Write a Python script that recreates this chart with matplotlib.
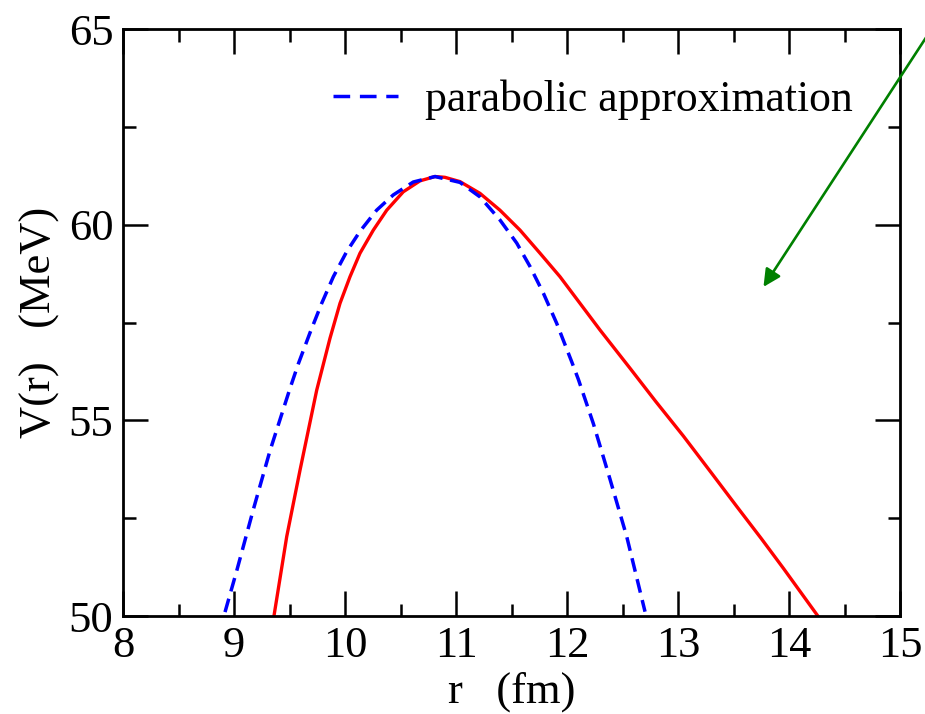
import matplotlib
matplotlib.use("Agg")
import matplotlib.pyplot as plt

plt.rcParams["font.family"] = ["Liberation Serif", "DejaVu Serif"]

# potential barrier V(r)
r_pot = [9.36, 9.475, 9.595, 9.745, 9.865, 9.955, 10.045, 10.135, 10.255, 10.376,
         10.525, 10.676, 10.811, 10.9, 11.036, 11.216, 11.396, 11.577, 11.757, 11.937,
         12.117, 12.297, 12.568, 12.80, 13.048, 13.30, 13.529, 13.75, 13.949, 14.26]
v_pot = [50.0, 52.03, 53.73, 55.77, 57.10, 57.99, 58.67, 59.27, 59.86, 60.37,
         60.84, 61.12, 61.23, 61.21, 61.10, 60.80, 60.37, 59.86, 59.27, 58.67,
         57.99, 57.31, 56.33, 55.48, 54.60, 53.66, 52.80, 51.98, 51.22, 50.0]

# parabolic approximation
r_par = [8.919, 9.024, 9.174, 9.324, 9.505, 9.579, 9.685, 9.790, 9.895, 10.015,
         10.135, 10.285, 10.435, 10.615, 10.811, 11.036, 11.216, 11.396, 11.547,
         11.667, 11.787, 11.907, 12.042, 12.102, 12.237, 12.387, 12.538, 12.703]
v_par = [50.10, 51.15, 52.72, 54.22, 55.82, 56.44, 57.24, 57.99, 58.67, 59.31,
         59.83, 60.37, 60.76, 61.09, 61.23, 61.08, 60.71, 60.12, 59.53,
         58.93, 58.25, 57.48, 56.50, 56.05, 54.92, 53.50, 52.03, 50.11]

fig = plt.figure(figsize=(9.25, 7.14), dpi=100)
ax = fig.add_axes([123 / 925, 1 - 616 / 714, 777 / 925, 587 / 714])

ax.plot(r_pot, v_pot, color="red", lw=2.4)
ax.plot(r_par, v_par, color="blue", lw=2.5, dashes=(4.0, 2.2),
        label="parabolic approximation")

ax.set_xlim(8, 15)
ax.set_ylim(50, 65)
ax.set_xticks(range(8, 16))
ax.set_yticks([50, 55, 60, 65])
ax.set_xticks([8.5 + i for i in range(7)], minor=True)
ax.set_yticks([52.5, 57.5, 62.5], minor=True)
ax.tick_params(which="both", direction="in", top=True, right=True,
               labelsize=32, width=1.8, pad=7)
ax.tick_params(which="major", length=18)
ax.tick_params(which="minor", length=9)
for s in ax.spines.values():
    s.set_linewidth(2.0)

ax.set_xlabel("r   (fm)", fontsize=32, labelpad=4)
ax.set_ylabel("V(r)   (MeV)", fontsize=32, labelpad=6)

leg = ax.legend(loc="center left", bbox_to_anchor=(0.27, 0.879), frameon=False,
                fontsize=31.5, borderpad=0, borderaxespad=0, handlelength=1.5,
                handletextpad=0.6)
leg.get_lines()[0].set_dashes((4.8, 2.8))

ax.annotate("", xy=(13.77, 58.41), xycoords="data",
            xytext=(1.017, 0.979), textcoords="figure fraction",
            arrowprops=dict(arrowstyle="-|>", color="green", lw=1.9,
                            mutation_scale=26, shrinkA=0, shrinkB=0),
            annotation_clip=False)

fig.savefig("out.png", dpi=100)
